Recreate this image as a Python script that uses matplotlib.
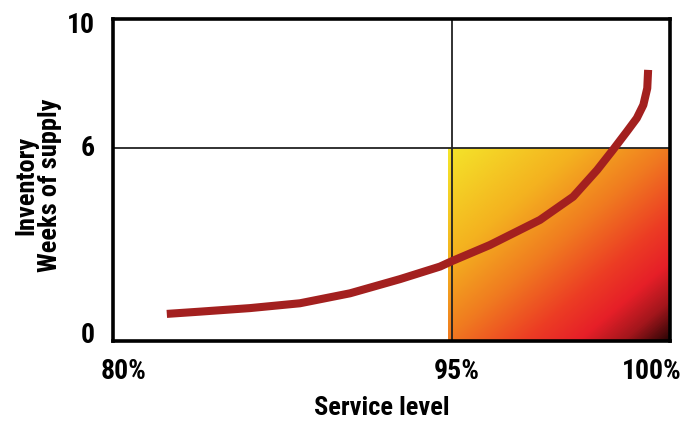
import numpy as np
import matplotlib
matplotlib.use("Agg")
import matplotlib.pyplot as plt
from matplotlib.colors import LinearSegmentedColormap
from matplotlib.transforms import ScaledTranslation

plt.rcParams['font.family'] = ['Roboto Condensed', 'DejaVu Sans']
plt.rcParams['font.weight'] = 'bold'

# curve
service = [82.38, 83.85, 86.06, 88.27, 90.49, 92.70, 94.47, 95.0, 95.87,
           97.02, 97.78, 98.33, 98.69, 99.01, 99.24, 99.39, 99.48, 99.50]
weeks = [0.84, 0.91, 1.02, 1.17, 1.48, 1.92, 2.31, 2.48, 2.98,
         3.76, 4.48, 5.31, 5.93, 6.50, 6.92, 7.33, 7.85, 8.42]

x_ticks = [80, 95, 100]
x_labels = ['80%', '95%', '100%']
y_ticks = [0, 6, 10]
target_level = 95
target_weeks = 6

# the axis is not linear: 80-95 takes ~339 px, 95-100 ~218 px
scale_pts = [80, 95, 100]
scale_pos = [0, 339, 557]

def fwd(v):
    return np.interp(v, scale_pts, scale_pos)

def inv(v):
    return np.interp(v, scale_pos, scale_pts)

fig = plt.figure(figsize=(6.85, 4.23), dpi=100)
ax = fig.add_axes([0.165, 0.194, 0.813, 0.761])
ax.set_xscale('function', functions=(fwd, inv))

# gradient box below 6 weeks / right of 95%
cmap = LinearSegmentedColormap.from_list('heat', [
    (0.0, '#f4e62a'), (0.3, '#f4b11f'), (0.5, '#f07a20'),
    (0.68, '#ec3c24'), (0.8, '#e61f28'), (0.9, '#a3161c'), (1.0, '#2a0505')])
gx, gy = np.meshgrid(np.linspace(0, 1, 200), np.linspace(0, 1, 200))
grad = (gx + gy) / 2
ax.imshow(grad, cmap=cmap, extent=[94.83, 100, 0, target_weeks], origin='upper',
          aspect='auto', interpolation='bilinear', zorder=1)
ax.set_xlim(80, 100)
ax.set_ylim(0, 10)

ax.axvline(target_level, color='#222222', lw=1.3, zorder=2)
ax.axhline(target_weeks, color='#222222', lw=1.3, zorder=2)

ax.plot(service, weeks, color='#a3201f', lw=5.8, solid_capstyle='butt',
        solid_joinstyle='round', zorder=3)

for s in ax.spines.values():
    s.set_linewidth(2.6)
    s.set_color('black')
    s.set_zorder(4)

ax.set_xticks(x_ticks)
ax.set_xticklabels(x_labels, fontsize=20, fontweight='bold')
ax.set_yticks(y_ticks)
ax.set_yticklabels([str(v) for v in y_ticks], fontsize=20, fontweight='bold')
ax.tick_params(length=0)
ax.tick_params(axis='x', pad=12)
ax.tick_params(axis='y', pad=13)

x_shift = [11, 5, -18]
for lab, dx in zip(ax.get_xticklabels(), x_shift):
    lab.set_transform(lab.get_transform() + ScaledTranslation(dx / 100, 0, fig.dpi_scale_trans))
y_shift = [8, 2, -3]
for lab, dy in zip(ax.get_yticklabels(), y_shift):
    lab.set_transform(lab.get_transform() + ScaledTranslation(0, dy / 100, fig.dpi_scale_trans))

fig.text(382 / 685, 1 - 408 / 423, 'Service level', fontsize=19, fontweight='bold',
         ha='center', va='center')
fig.text(38 / 685, 1 - 185 / 423, 'Inventory\nWeeks of supply', fontsize=19,
         fontweight='bold', ha='center', va='center', rotation=90, linespacing=1.0)

fig.savefig('out.png', dpi=100)
